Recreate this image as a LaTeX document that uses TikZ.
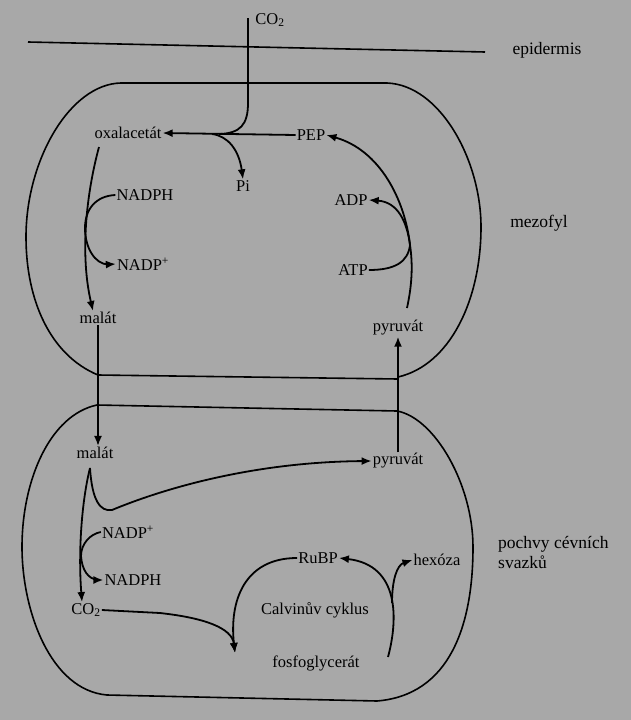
\documentclass[tikz,border=0pt]{standalone}
\usepackage{fontspec}
\setmainfont{Liberation Serif}
\usetikzlibrary{arrows.meta}
\definecolor{bg}{RGB}{168,168,168}
\begin{document}
\begin{tikzpicture}[x=1pt,y=-1pt,
  lbl/.style={font=\fontsize{16.5}{18}\selectfont, inner sep=1pt},
  big/.style={font=\fontsize{17.5}{20}\selectfont, inner sep=1pt},
  conn/.style={line width=1.8pt},
  tip/.style={-{Latex[length=10pt,width=8pt]}},
  arr/.style={conn,tip},
  wall/.style={line width=1.6pt}]
\fill[bg] (0,0) rectangle (631,720);
\useasboundingbox (0,0) rectangle (631,720);

% labels
\node[lbl] (co2top) at (270,20) {CO\textsubscript{2}};
\node[big] (epi) at (547,50) {epidermis};
\node[lbl] (oxal) at (128,133) {oxalacetát};
\node[lbl] (pep) at (311,135) {PEP};
\node[lbl] (pi) at (243,186) {Pi};
\node[lbl] (nadph1) at (145,195) {NADPH};
\node[lbl] (nadp1) at (143,264) {NADP\textsuperscript{+}};
\node[lbl] (malat1) at (98,318) {malát};
\node[lbl] (adp) at (351,200) {ADP};
\node[lbl] (atp) at (353,270) {ATP};
\node[lbl] (pyr1) at (398,328) {pyruvát};
\node[big] (mezofyl) at (539,223) {mezofyl};
\node[lbl] (malat2) at (95,453) {malát};
\node[lbl] (pyr2) at (398,461) {pyruvát};
\node[lbl] (nadp2) at (128,532) {NADP\textsuperscript{+}};
\node[lbl] (nadph2) at (133,580) {NADPH};
\node[lbl] (co2b) at (86,610) {CO\textsubscript{2}};
\node[lbl] (rubp) at (318,558) {RuBP};
\node[lbl] (hexoza) at (437,560) {hexóza};
\node[lbl] (calvin) at (315,610) {Calvinův cyklus};
\node[lbl] (fosfo) at (316,663) {fosfoglycerát};
\node[big, align=left, anchor=west] (pochvy) at (497,552) {pochvy cévních\\svazků};

% epidermis line
\coordinate (epiL) at (28,42);
\coordinate (epiR) at (485,52);
\draw[wall] (epiL) -- (epiR);

% mesophyll cell
\draw[wall] (121,83) -- (387,83)
  .. controls (440,85) and (481,160) .. (481,227)
  .. controls (481,300) and (450,365) .. (398,377);
\draw[wall] (398,379) -- (98,375)
  .. controls (50,355) and (26,300) .. (26,237)
  .. controls (26,160) and (70,84) .. (121,83);

% bundle sheath cell
\draw[wall] (97,405) -- (397,411)
  .. controls (435,418) and (473,485) .. (473,547)
  .. controls (473,625) and (450,695) .. (377,701)
  -- (107,695)
  .. controls (50,690) and (22,610) .. (22,547)
  .. controls (22,480) and (50,415) .. (97,405);

% CO2 uptake
\coordinate (co2in) at (248,18);
\coordinate (join) at (220,134);
\draw[conn] (co2in) -- (248,103) .. controls (248,125) and (240,133) .. (join);
\draw[arr] (pep.west) -- (oxal.east);
\draw[arr] (212,134) .. controls (228,136) and (239,150) .. (pi.north);

% oxalacetate -> malate
\coordinate (ox1) at (99,147);
\draw[arr] (ox1) .. controls (86,195) and (80,255) .. ([xshift=-5pt]malat1.north);
\draw[conn] (nadph1.west) .. controls (95,196) and (85,210) .. (85,228)
  .. controls (85,248) and (95,264) .. (108,264.5);
\draw[conn,tip] (107,264.5) -- (nadp1.west);

% malate transport
\draw[arr] (malat1.south) -- (malat1.south |- malat2.north);

% bundle sheath decarboxylation
\coordinate (m2b) at (90,468);
\draw[arr] (m2b) .. controls (92,500) and (100,512) .. (112,510)
  .. controls (160,490) and (250,462) .. (pyr2.west);
\draw[arr] (m2b) .. controls (82,500) and (78,550) .. (co2b.north -| 82,0);
\draw[conn] (nadp2.west) .. controls (90,534) and (81,544) .. (81,556)
  .. controls (82,570) and (88,579) .. (98,580);
\draw[conn,tip] (97,580) -- (nadph2.west);

% pyruvate back to mesophyll
\draw[arr] (pyr2.north) -- (pyr1.south);

% PEP regeneration
\coordinate (py1) at (407,308);
\coordinate (pm) at (410,245);
\draw[arr] (py1) .. controls (412,285) and (413,265) .. (pm)
  .. controls (405,200) and (380,150) .. (pep.east);
\draw[conn] (atp.east) .. controls (395,270) and (408,262) .. (pm);
\draw[arr] (pm) .. controls (407,222) and (398,202) .. (adp.east);

% Calvin cycle
\coordinate (calv) at (235,653);
\draw[arr] (co2b.east) -- (160,613) .. controls (205,618) and (232,628) .. (calv);
\draw[arr] (rubp.west) .. controls (245,558) and (229,600) .. (calv);
\coordinate (fo) at (388,657);
\draw[arr] (fo) .. controls (398,620) and (400,565) .. (rubp.east);
\draw[arr] (392,603) .. controls (392,580) and (397,565) .. (hexoza.west);
\end{tikzpicture}
\end{document}
